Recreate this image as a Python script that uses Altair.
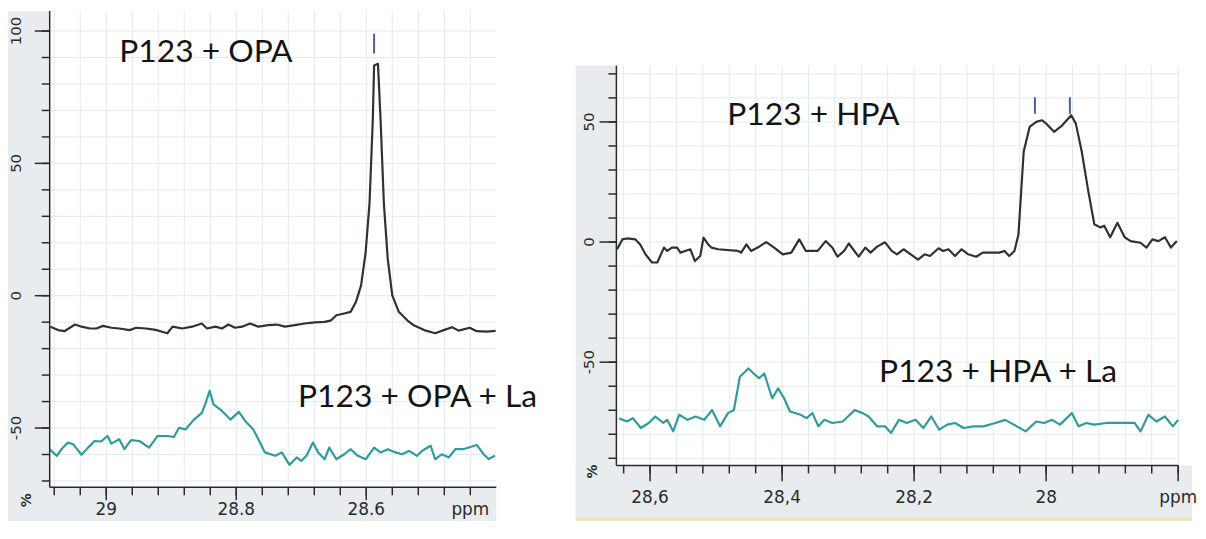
import altair as alt
import pandas as pd

# ---------------- data ----------------
# left panel: P123 + OPA (black) and P123 + OPA + La (teal)
OPA_PPM = [29.086, 29.074, 29.064, 29.056, 29.048, 29.038, 29.025, 29.015, 29.005, 28.992,
           28.980, 28.964, 28.954, 28.939, 28.924, 28.914, 28.906, 28.898, 28.883, 28.868,
           28.853, 28.845, 28.832, 28.822, 28.812, 28.802, 28.791, 28.779, 28.766, 28.751,
           28.738, 28.725, 28.710, 28.695, 28.679, 28.664, 28.654, 28.646, 28.634, 28.624,
           28.616, 28.608, 28.601, 28.595, 28.590, 28.588, 28.582, 28.578, 28.573, 28.567,
           28.560, 28.550, 28.537, 28.527, 28.511, 28.494, 28.481, 28.468, 28.458, 28.441,
           28.430, 28.415, 28.401]
OPA_INT = [-11.7, -13.0, -13.4, -12.1, -10.9, -11.7, -12.4, -12.4, -11.4, -12.1,
           -12.4, -13.0, -12.1, -12.4, -12.9, -13.6, -14.2, -11.7, -12.4, -11.7,
           -10.5, -12.4, -11.7, -12.4, -10.9, -12.1, -11.7, -10.5, -11.7, -11.1,
           -10.9, -11.7, -11.1, -10.5, -10.1, -9.9, -9.3, -7.4, -6.7, -6.1,
           -2.4, 3.9, 16.4, 35.1, 66.4, 87.0, 87.6, 66.4, 35.1, 13.9,
           0.1, -6.1, -9.3, -11.2, -13.0, -14.2, -13.0, -11.9, -13.2, -12.1,
           -13.4, -13.6, -13.3]

OPA_LA_PPM = [29.087, 29.076, 29.069, 29.059, 29.051, 29.038, 29.028, 29.018, 29.008, 28.998,
              28.992, 28.980, 28.972, 28.962, 28.949, 28.934, 28.921, 28.906, 28.896, 28.888,
              28.878, 28.865, 28.853, 28.847, 28.841, 28.835, 28.824, 28.809, 28.796, 28.786,
              28.774, 28.766, 28.756, 28.740, 28.730, 28.718, 28.707, 28.700, 28.692, 28.682,
              28.674, 28.664, 28.657, 28.646, 28.634, 28.624, 28.613, 28.601, 28.588, 28.578,
              28.567, 28.555, 28.545, 28.534, 28.522, 28.514, 28.501, 28.494, 28.484, 28.473,
              28.463, 28.451, 28.430, 28.420, 28.412, 28.402]
OPA_LA_INT = [-58.0, -60.5, -58.0, -55.5, -56.1, -60.1, -57.4, -54.9, -55.1, -53.0,
              -55.9, -54.2, -58.0, -54.6, -54.9, -57.4, -53.0, -53.0, -53.4, -49.9,
              -50.5, -46.8, -44.3, -40.5, -35.9, -41.1, -43.1, -46.8, -43.9, -47.4,
              -50.5, -54.2, -59.2, -60.5, -59.2, -63.9, -61.1, -62.4, -60.5, -55.5,
              -59.2, -61.8, -57.4, -61.8, -59.9, -58.0, -60.5, -61.8, -57.4, -59.2,
              -58.0, -59.2, -59.9, -58.6, -60.5, -58.6, -56.7, -61.8, -59.9, -61.1,
              -58.0, -58.0, -56.4, -59.8, -61.7, -60.5]

# right panel: P123 + HPA (black) and P123 + HPA + La (teal)
HPA_PPM = [28.650, 28.642, 28.635, 28.622, 28.615, 28.607, 28.597, 28.589, 28.579, 28.574,
           28.567, 28.559, 28.554, 28.547, 28.539, 28.532, 28.524, 28.519, 28.512, 28.507,
           28.497, 28.467, 28.462, 28.454, 28.447, 28.437, 28.424, 28.412, 28.399, 28.386,
           28.374, 28.364, 28.346, 28.334, 28.324, 28.316, 28.306, 28.299, 28.284, 28.274,
           28.266, 28.256, 28.244, 28.234, 28.226, 28.216, 28.194, 28.184, 28.176, 28.163,
           28.156, 28.148, 28.138, 28.128, 28.118, 28.106, 28.096, 28.081, 28.071, 28.063,
           28.056, 28.048, 28.042, 28.034, 28.025, 28.015, 28.006, 28.000, 27.988, 27.976,
           27.962, 27.955, 27.946, 27.936, 27.927, 27.918, 27.912, 27.903, 27.892, 27.881,
           27.872, 27.857, 27.848, 27.839, 27.830, 27.820, 27.811, 27.802]
HPA_INT = [-3.0, 1.1, 1.5, 1.1, -1.0, -5.1, -8.5, -8.5, -2.3, -3.7,
           -2.3, -2.3, -4.4, -3.7, -3.0, -7.9, -5.8, 1.8, -1.0, -2.3,
           -3.0, -3.7, -4.4, -1.0, -3.7, -2.3, 0.0, -2.3, -5.1, -4.4,
           1.1, -3.7, -3.7, 0.4, -2.3, -6.1, -3.7, -0.6, -6.1, -2.3,
           -4.4, -1.9, -0.1, -3.7, -5.1, -3.0, -7.3, -5.1, -5.8, -2.6,
           -3.7, -3.0, -5.8, -3.0, -5.1, -6.1, -4.4, -4.4, -4.4, -3.7,
           -5.8, -3.7, 3.0, 37.6, 47.9, 50.0, 50.7, 49.3, 45.9, 48.5,
           52.8, 49.3, 37.6, 21.0, 7.4, 6.1, 6.8, 2.0, 8.0, 2.0,
           0.4, -0.3, -2.3, 1.1, 0.4, 2.0, -2.3, 0.4]

HPA_LA_PPM = [28.647, 28.635, 28.626, 28.614, 28.602, 28.592, 28.580, 28.574, 28.565, 28.556,
              28.543, 28.531, 28.518, 28.506, 28.494, 28.482, 28.473, 28.464, 28.451, 28.443,
              28.435, 28.427, 28.415, 28.406, 28.397, 28.388, 28.372, 28.363, 28.354, 28.345,
              28.336, 28.324, 28.308, 28.290, 28.278, 28.269, 28.256, 28.244, 28.235, 28.223,
              28.211, 28.198, 28.186, 28.174, 28.162, 28.150, 28.138, 28.125, 28.110, 28.095,
              28.077, 28.062, 28.049, 28.031, 28.015, 28.003, 27.991, 27.979, 27.961, 27.951,
              27.939, 27.927, 27.909, 27.891, 27.866, 27.857, 27.845, 27.833, 27.820, 27.808,
              27.800]
HPA_LA_INT = [-73.3, -74.7, -73.3, -77.4, -75.3, -72.6, -75.3, -74.0, -78.8, -71.9,
              -74.0, -72.6, -74.0, -69.9, -76.7, -71.2, -69.9, -56.1, -52.6, -54.7,
              -56.7, -54.7, -65.0, -60.9, -65.0, -70.5, -71.9, -73.3, -71.2, -76.7,
              -74.0, -75.3, -74.7, -69.9, -71.2, -72.6, -76.7, -76.7, -79.5, -74.0,
              -75.3, -74.0, -77.4, -72.6, -78.1, -76.0, -75.3, -77.4, -76.7, -76.7,
              -75.3, -74.0, -76.0, -78.8, -74.7, -75.3, -74.0, -76.0, -71.2, -76.7,
              -75.3, -76.0, -75.3, -75.3, -75.3, -78.8, -71.9, -74.7, -72.6, -76.7,
              -74.0]

# peak-pick markers (ppm, low, high)
LEFT_MARK_PPM = [28.588]
LEFT_MARK_LO = [91.5]
LEFT_MARK_HI = [99.0]
RIGHT_MARK_PPM = [28.017, 27.964]
RIGHT_MARK_LO = [53.4, 53.4]
RIGHT_MARK_HI = [60.3, 60.3]

# in-plot annotations
LEFT_LABELS = ["P123 + OPA", "P123 + OPA + La"]
LEFT_LABEL_PPM = [28.980, 28.705]
LEFT_LABEL_INT = [88.2, -42.0]
RIGHT_LABELS = ["P123 + HPA", "P123 + HPA + La"]
RIGHT_LABEL_PPM = [28.483, 28.253]
RIGHT_LABEL_INT = [48.8, -58.1]

# axis ticks and tick labels
LEFT_X_TICKS = [29.08, 29.04, 29.0, 28.96, 28.92, 28.88, 28.84, 28.8, 28.76, 28.72,
                28.68, 28.64, 28.6, 28.56, 28.52, 28.48, 28.44]
LEFT_X_MAJOR = [29.0, 28.8, 28.6]
LEFT_X_LABEL_AT = [29.0, 28.8, 28.6, 28.44]
LEFT_X_LABELS = ["29", "28.8", "28.6", "ppm"]
LEFT_Y_TICKS = [-70, -60, -50, -40, -30, -20, -10, 0, 10, 20, 30, 40, 50, 60, 70, 80, 90, 100]
LEFT_Y_MAJOR = [-50, 0, 50, 100]
LEFT_Y_LABELS = ["-50", "0", "50", "100"]

RIGHT_X_TICKS = [28.64, 28.6, 28.56, 28.52, 28.48, 28.44, 28.4, 28.36, 28.32, 28.28, 28.24,
                 28.2, 28.16, 28.12, 28.08, 28.04, 28.0, 27.96, 27.92, 27.88, 27.84, 27.8]
RIGHT_X_MAJOR = [28.6, 28.4, 28.2, 28.0, 27.8]
RIGHT_X_LABEL_AT = [28.6, 28.4, 28.2, 28.0, 27.8]
RIGHT_X_LABELS = ["28,6", "28,4", "28,2", "28", "ppm"]
RIGHT_Y_TICKS = [-90, -80, -70, -60, -50, -40, -30, -20, -10, 0, 10, 20, 30, 40, 50, 60, 70]
RIGHT_Y_MAJOR = [-50, 0, 50]
RIGHT_Y_LABELS = ["-50", "0", "50"]

Y_UNIT = "%"

# ---------------- styling ----------------
BLACK = "#2e3233"
TEAL = "#2f9c9c"
MARK = "#4b5f98"
GRID = "#e2e9f0"
GRAY = "#e8ecee"
TAN = "#ece6c6"
AX = "#2a2a2a"
AXFONT = "DejaVu Sans"
TXTFONT = "Lato"
ONE = pd.DataFrame({"k": [0]})
MINOR = 8


def panel(series, xdom, ydom, W, H, top, xticks, xmaj, xlab_at, xlabs, yticks, ymaj, ylabs,
          xlen, ylen, xlab_y, ylab_x, unit_xy, marks, labels, frame):
    """top = pixel row where the framed plot starts inside a view of height H"""
    xs = alt.Scale(domain=xdom, reverse=True, nice=False, zero=False, clamp=False)
    ys = alt.Scale(domain=ydom, nice=False, zero=False, clamp=False)
    x_lo, x_hi = xdom
    y_lo, y_hi = ydom

    # pixel offsets outside the frame expressed in the panel's own data units
    def px2x(px):
        return x_hi - px * (x_hi - x_lo) / W

    def py2y(py):
        return y_hi - py * (y_hi - y_lo) / H

    def X(f):
        return alt.X(f + ":Q", scale=xs, axis=None)

    def Y(f):
        return alt.Y(f + ":Q", scale=ys, axis=None)

    # grey instrument frame around the plot (left strip, bottom strip, tan edge)
    fr = pd.DataFrame([
        {"x0": px2x(a), "x1": px2x(b), "y0": py2y(c), "y1": py2y(d), "c": col}
        for (a, b, c, d, col) in frame])
    frame_layer = alt.Chart(fr).mark_rect().encode(
        x=X("x0"), x2="x1:Q", y=Y("y0"), y2="y1:Q",
        color=alt.Color("c:N", scale=None, legend=None))

    gx = alt.Chart(pd.DataFrame({"ppm": xticks})).mark_rule(color=GRID, strokeWidth=1).encode(
        x=X("ppm"), y=alt.value(top), y2=alt.value(H))
    gy = alt.Chart(pd.DataFrame({"int": yticks})).mark_rule(color=GRID, strokeWidth=1).encode(
        y=Y("int"), x=alt.value(0), x2=alt.value(W))

    rows = []
    for name, ppm, val in series:
        for p, v in zip(ppm, val):
            rows.append({"ppm": p, "int": v, "series": name})
    df = pd.DataFrame(rows)
    names = [s[0] for s in series]
    lines = alt.Chart(df).mark_line(strokeWidth=2.2, strokeJoin="round").encode(
        x=X("ppm"), y=Y("int"),
        color=alt.Color("series:N", scale=alt.Scale(domain=names, range=[BLACK, TEAL]), legend=None),
        detail="series:N")

    mp, lo, hi = marks
    mk = alt.Chart(pd.DataFrame({"ppm": mp, "int": lo, "hi": hi})).mark_rule(
        color=MARK, strokeWidth=2).encode(x=X("ppm"), y=Y("int"), y2="hi:Q")

    lt, lp, lv = labels
    tx = alt.Chart(pd.DataFrame({"t": lt, "ppm": lp, "int": lv})).mark_text(
        align="left", baseline="alphabetic", font=TXTFONT, fontSize=32, color="#141414").encode(
        x=X("ppm"), y=Y("int"), text="t:N")

    # axis lines
    xdomain = alt.Chart(ONE).mark_rule(color=AX, strokeWidth=1.5).encode(
        x=alt.value(0), x2=alt.value(W), y=alt.value(H))
    ydomain = alt.Chart(ONE).mark_rule(color=AX, strokeWidth=1.5).encode(
        x=alt.value(0), y=alt.value(top), y2=alt.value(H))

    # ticks (positions from the tick arrays, lengths converted to data units)
    xt_df = pd.DataFrame({"ppm": xticks + xmaj,
                          "int": [y_lo] * (len(xticks) + len(xmaj)),
                          "e": [py2y(H + MINOR)] * len(xticks) + [py2y(H + xlen)] * len(xmaj)})
    xt = alt.Chart(xt_df).mark_rule(color=AX, strokeWidth=1.5).encode(
        x=X("ppm"), y=Y("int"), y2="e:Q")
    yt_df = pd.DataFrame({"int": yticks + ymaj,
                          "ppm": [x_hi] * (len(yticks) + len(ymaj)),
                          "e": [px2x(-MINOR)] * len(yticks) + [px2x(-ylen)] * len(ymaj)})
    yt = alt.Chart(yt_df).mark_rule(color=AX, strokeWidth=1.5).encode(
        y=Y("int"), x=X("ppm"), x2="e:Q")

    xl = alt.Chart(pd.DataFrame({"ppm": xlab_at, "t": xlabs})).mark_text(
        align="center", baseline="top", font=AXFONT, fontSize=17, color=AX).encode(
        x=X("ppm"), y=alt.value(xlab_y), text="t:N")
    yl = alt.Chart(pd.DataFrame({"int": ymaj, "t": ylabs})).mark_text(
        align="center", baseline="alphabetic", angle=270, font=AXFONT, fontSize=15, color=AX).encode(
        y=Y("int"), x=alt.value(ylab_x), text="t:N")
    ux, uy = unit_xy
    un = alt.Chart(pd.DataFrame({"t": [Y_UNIT]})).mark_text(
        align="center", baseline="middle", angle=270, font=AXFONT, fontSize=14,
        fontWeight="bold", color=AX).encode(x=alt.value(ux), y=alt.value(uy), text="t:N")

    return alt.layer(frame_layer, gx, gy, lines, mk, tx, xdomain, ydomain, xt, yt,
                     xl, yl, un).properties(width=W, height=H)


# left panel geometry (frame starts at the top of its view)
LW, LH = 450, 480
left = panel(
    [("P123 + OPA", OPA_PPM, OPA_INT), ("P123 + OPA + La", OPA_LA_PPM, OPA_LA_INT)],
    [28.4, 29.087], [-72.4, 107.6], LW, LH, 0,
    LEFT_X_TICKS, LEFT_X_MAJOR, LEFT_X_LABEL_AT, LEFT_X_LABELS,
    LEFT_Y_TICKS, LEFT_Y_MAJOR, LEFT_Y_LABELS,
    13, 15, LH + 15, -29, (-23, LH + 13),
    (LEFT_MARK_PPM, LEFT_MARK_LO, LEFT_MARK_HI),
    (LEFT_LABELS, LEFT_LABEL_PPM, LEFT_LABEL_INT),
    [(-42, 0, 0, LH + 34, GRAY), (-42, LW, LH, LH + 34, GRAY),
     (LW + 78, LW + 79, 0, 1, "white")],
)

# right panel geometry: its frame starts 55 px lower, inside a taller view
RW, TOP, RH = 566, 55, 458
right = panel(
    [("P123 + HPA", HPA_PPM, HPA_INT), ("P123 + HPA + La", HPA_LA_PPM, HPA_LA_INT)],
    [27.8, 28.651], [-93.0, 96.2], RW, RH, TOP,
    RIGHT_X_TICKS, RIGHT_X_MAJOR, RIGHT_X_LABEL_AT, RIGHT_X_LABELS,
    RIGHT_Y_TICKS, RIGHT_Y_MAJOR, RIGHT_Y_LABELS,
    16, 17, RH + 25, -23, (-24, RH + 6),
    (RIGHT_MARK_PPM, RIGHT_MARK_LO, RIGHT_MARK_HI),
    (RIGHT_LABELS, RIGHT_LABEL_PPM, RIGHT_LABEL_INT),
    [(-41, 0, TOP, RH + 52, GRAY), (-41, RW + 14, RH, RH + 52, GRAY),
     (-41, RW + 14, RH + 52, RH + 56, TAN)],
)

chart = alt.hconcat(left, right, spacing=0).properties(padding=0).configure(
    background="white").configure_view(stroke=None)

chart.save("out.html", embed_options={"renderer": "svg", "actions": False})
